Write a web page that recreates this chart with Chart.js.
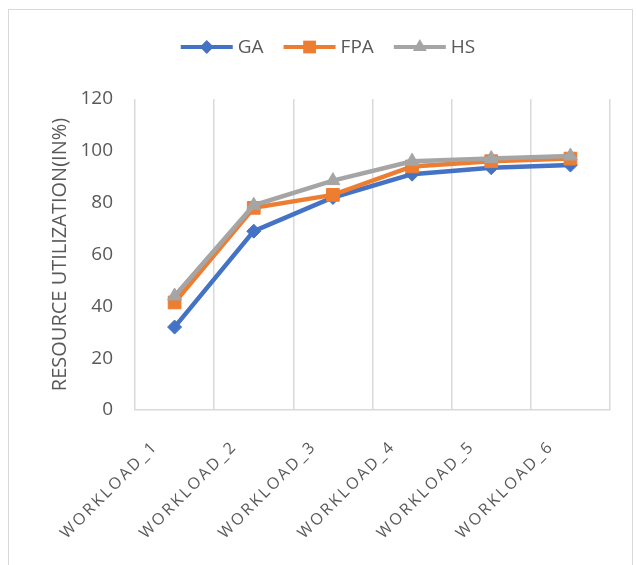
<!DOCTYPE html>
<html lang="en">
<head>
    <meta charset="UTF-8">
    <title>Resource utilization</title>
    <script src="https://cdn.jsdelivr.net/npm/chart.js"></script>
    <style>
        body { margin: 0; background: #fff; }
        .moldura {
            position: absolute; left: 8px; top: 9px; width: 625px; height: 600px;
            border: 1px solid #d9d9d9; box-sizing: border-box;
        }
        .grafico_sty { position: absolute; left: 0; top: 0; width: 636px; height: 565px; }
    </style>
</head>
<body>
    <div class="moldura"></div>
    <div class="grafico_sty">
        <canvas id="grafico_1"></canvas>
    </div>

    <script>
        const categorias = ['WORKLOAD_1', 'WORKLOAD_2', 'WORKLOAD_3', 'WORKLOAD_4', 'WORKLOAD_5', 'WORKLOAD_6'];
        const valoresGA = [32, 69, 82, 91, 93.5, 94.5];
        const valoresFPA = [41.5, 78, 83, 94, 96, 97];
        const valoresHS = [44, 79, 88.5, 96, 97, 98];
        const ticksY = [0, 20, 40, 60, 80, 100, 120];
        const tituloY = 'RESOURCE UTILIZATION(IN%)';

        const corTexto = '#595959';
        const fonte = '"Open Sans", "DejaVu Sans", sans-serif';

        // espaco entre letras so nos rotulos do eixo x (desenhados depois das linhas, z: 1)
        const espacoLetras = {
            id: 'espacoLetras',
            afterDatasetsDraw(chart) { chart.ctx.letterSpacing = '2.5px'; },
            afterDraw(chart) { chart.ctx.letterSpacing = '0px'; }
        };

        const marcador = (ctx, estilo, r, x, y) => {
            ctx.beginPath();
            if (estilo === 'rect') {
                const s = Math.SQRT1_2 * r;
                ctx.rect(x - s, y - s, 2 * s, 2 * s);
            } else if (estilo === 'rectRot') {
                ctx.moveTo(x, y - r); ctx.lineTo(x + r, y); ctx.lineTo(x, y + r); ctx.lineTo(x - r, y);
                ctx.closePath();
            } else {
                ctx.moveTo(x, y - r); ctx.lineTo(x + r * 0.87, y + r / 2); ctx.lineTo(x - r * 0.87, y + r / 2);
                ctx.closePath();
            }
            ctx.fill();
        };

        const legendaLinhas = {
            id: 'legendaLinhas',
            afterDraw(chart) {
                const ctx = chart.ctx;
                ctx.save();
                ctx.letterSpacing = '0px';
                ctx.font = '19px ' + fonte;
                const linha = 52, gapTexto = 5, gapItem = 20, y = 47;
                const itens = chart.data.datasets.map(ds => ({ ds, w: ctx.measureText(ds.label).width }));
                const total = itens.reduce((s, it) => s + linha + gapTexto + it.w, 0) + gapItem * (itens.length - 1);
                let x = 328 - total / 2;
                itens.forEach(it => {
                    ctx.strokeStyle = it.ds.borderColor;
                    ctx.lineWidth = 4;
                    ctx.beginPath(); ctx.moveTo(x, y); ctx.lineTo(x + linha, y); ctx.stroke();
                    ctx.fillStyle = it.ds.borderColor;
                    marcador(ctx, it.ds.pointStyle, it.ds.pointRadius, x + linha / 2, y);
                    ctx.fillStyle = corTexto;
                    ctx.textBaseline = 'middle';
                    ctx.fillText(it.ds.label, x + linha + gapTexto, y + 1);
                    x += linha + gapTexto + it.w + gapItem;
                });
                ctx.restore();
            }
        };

        const serie = (label, data, cor, estilo, raio, ordem) => ({
            label, data,
            borderColor: cor, backgroundColor: cor,
            borderWidth: 4.5,
            pointStyle: estilo, pointRadius: raio,
            pointBackgroundColor: cor, pointBorderColor: cor, pointBorderWidth: 1,
            tension: 0, order: ordem
        });

        const ctx = document.getElementById('grafico_1');

        const grafico_1 = new Chart(ctx, {
            type: 'line',
            data: {
                labels: categorias,
                datasets: [
                    serie('GA', valoresGA, '#4472C4', 'rectRot', 7, 3),
                    serie('FPA', valoresFPA, '#ED7D31', 'rect', 9, 2),
                    serie('HS', valoresHS, '#A5A5A5', 'triangle', 8, 1)
                ]
            },
            options: {
                responsive: true,
                maintainAspectRatio: false,
                animation: false,
                layout: { padding: { top: 99, right: 26, left: 0, bottom: 0 } },
                plugins: { legend: { display: false }, tooltip: { enabled: false } },
                scales: {
                    x: {
                        offset: true,
                        grid: { display: true, color: '#d9d9d9', lineWidth: 1.5, offset: true, drawTicks: false },
                        border: { display: true, color: '#d9d9d9', width: 1.5 },
                        ticks: {
                            minRotation: 45, maxRotation: 45, autoSkip: false,
                            color: corTexto, font: { family: fonte, size: 16 }, padding: 27,
                            labelOffset: -19, z: 1
                        },
                        afterFit: s => { s.height = 155; }
                    },
                    y: {
                        min: 0, max: 120,
                        afterBuildTicks: s => { s.ticks = ticksY.map(v => ({ value: v })); },
                        grid: { display: false },
                        border: { display: false },
                        ticks: { color: corTexto, font: { family: fonte, size: 19 }, padding: 14 },
                        title: {
                            display: true, text: tituloY, color: corTexto,
                            font: { family: fonte, size: 20 }, padding: { top: 48, bottom: 0 }
                        },
                        afterFit: s => { s.width = 135; }
                    }
                }
            },
            plugins: [espacoLetras, legendaLinhas]
        });
    </script>
</body>
</html>
